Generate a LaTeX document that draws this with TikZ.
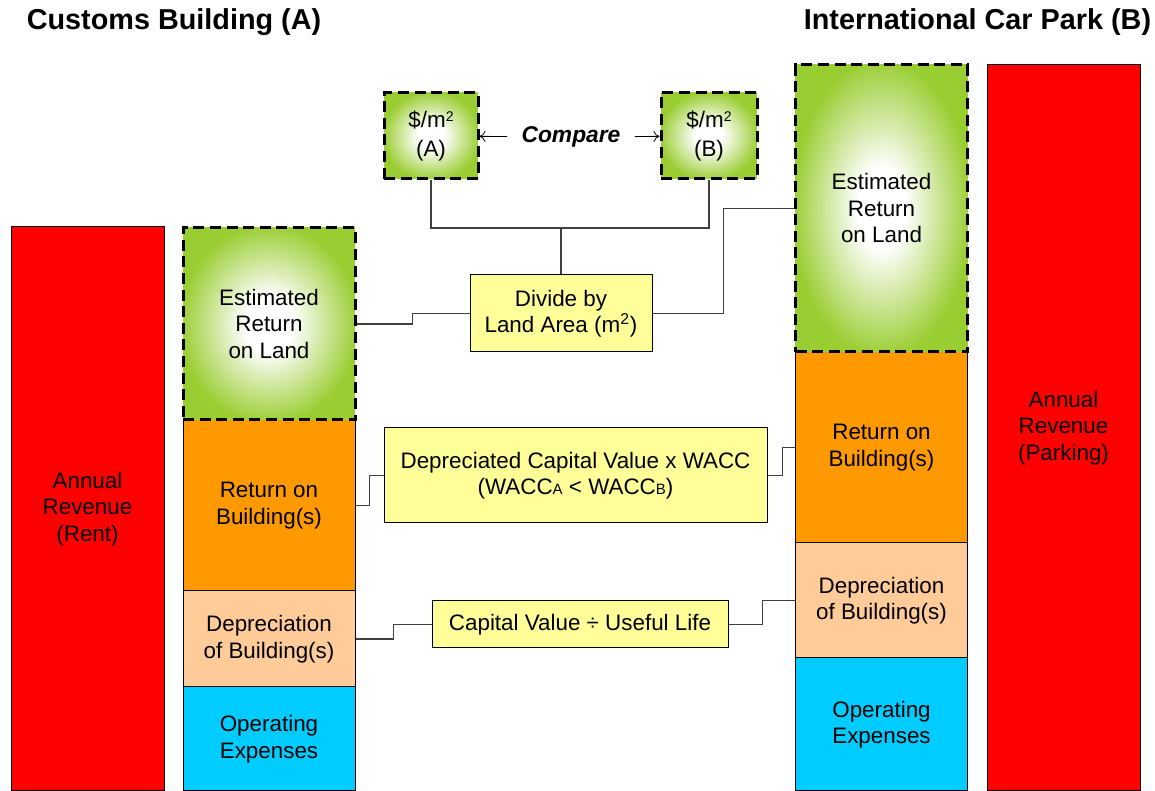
\documentclass[tikz,border=0pt]{standalone}
\usepackage{fontspec}
\setmainfont{Liberation Sans}
\usepackage{xcolor}
\usetikzlibrary{arrows.meta}

\definecolor{revred}{HTML}{FF0000}
\definecolor{bldorange}{HTML}{FF9900}
\definecolor{deppeach}{HTML}{FFCC99}
\definecolor{opcyan}{HTML}{00CCFF}
\definecolor{landgreen}{HTML}{9ACD32}
\definecolor{formyellow}{HTML}{FFFF99}
\definecolor{linkgray}{HTML}{404040}

% soft glow for the land boxes
\pgfdeclareradialshading{landglow}{\pgfpoint{0bp}{0bp}}{%
  color(0bp)=(white); color(7bp)=(white); color(26bp)=(landgreen); color(50bp)=(landgreen)}

% small letters after WACC, small square sign
\newcommand\wsub[1]{{\fontsize{7.5}{8}\selectfont #1}}
\newcommand\sqm{\raisebox{0.5ex}{\fontsize{7}{8}\selectfont 2}}

\begin{document}
\begin{tikzpicture}[x=1pt, y=1pt, >={To[length=3pt,width=5.5pt]},
    every node/.style={font=\fontsize{11.2}{13.25}\selectfont, align=center, inner sep=0pt},
    box/.style={draw, line width=0.5pt, fill=#1, minimum width=86pt},
    land/.style={draw, line width=1.5pt, dash pattern=on 5.5pt off 2.8pt,
                 shade, shading=landglow},
    formula/.style={draw, line width=0.5pt, fill=formyellow},
    link/.style={draw=linkgray, line width=0.6pt}]
  \useasboundingbox (0,0) rectangle (577.5,395.5);

  % titles
  \node[font=\fontsize{14.4}{17}\selectfont\bfseries] (titleA) at (87,384.5) {Customs Building (A)};
  \node[font=\fontsize{14.4}{17}\selectfont\bfseries] (titleB) at (488.75,384.5) {International Car Park (B)};

  % customs building
  \node[box=revred, minimum width=76.5pt, minimum height=282pt] (revA) at (43.75,141) {Annual\\Revenue\\(Rent)};
  \node[box=bldorange, minimum height=85.5pt] (bldA) at (134.5,142.75) {Return on\\Building(s)};
  \node[box=deppeach, minimum height=48pt] (depA) at (134.5,76) {Depreciation\\of Building(s)};
  \node[box=opcyan, minimum height=52pt] (opA) at (134.5,26) {Operating\\Expenses};
  \node[land, minimum width=86pt, minimum height=96pt] (landA) at (134.5,233.5) {Estimated\\Return\\on Land};

  % car park
  \node[box=opcyan, minimum height=66.5pt] (opB) at (440.75,33.25) {Operating\\Expenses};
  \node[box=deppeach, minimum height=57.5pt] (depB) at (440.75,95.25) {Depreciation\\of Building(s)};
  \node[box=bldorange, minimum height=95.5pt] (bldB) at (440.75,171.75) {Return on\\Building(s)};
  \node[land, minimum width=86pt, minimum height=143.5pt] (landB) at (440.75,291.25) {Estimated\\Return\\on Land};
  \node[box=revred, minimum width=76.5pt, minimum height=363pt] (revB) at (531.75,181.5) {Annual\\Revenue\\(Parking)};

  % rates per square metre
  \node[land, minimum width=47pt, minimum height=43pt, font=\fontsize{11.2}{14.5}\selectfont] (rateA) at (215.5,327.5) {\$/m\sqm\\(A)};
  \node[land, minimum width=48pt, minimum height=43pt, font=\fontsize{11.2}{14.5}\selectfont] (rateB) at (354.5,327.5) {\$/m\sqm\\(B)};
  \node[font=\fontsize{11.4}{13}\selectfont\bfseries\itshape, inner xsep=7pt] (cmp) at (285.5,327) {Compare};
  \draw[->] (cmp) -- (rateA);
  \draw[->] (cmp) -- (rateB);

  % formulas
  \node[formula, minimum width=91pt, minimum height=38.5pt] (area) at (280.5,238.75) {Divide by\\Land Area (m\textsuperscript{2})};
  \node[formula, minimum width=191.5pt, minimum height=47.5pt] (wacc) at (287.75,157.75)
    {Depreciated Capital Value x WACC\\(WACC\wsub{A} < WACC\wsub{B})};
  \node[formula, minimum width=148pt, minimum height=23.5pt] (life) at (290,83.25) {Capital Value ÷ Useful Life};

  % links
  \coordinate (fork) at (280.5,281.5);
  \draw[link] (rateA.south) |- (fork) -| (rateB.south);
  \draw[link] (fork) -- (area.north);
  \draw[link] (area.west) -- ++(-28.5,0) |- (landA.east);
  \draw[link] (area.east) -- ++(35.5,0) |- (landB.west);
  \draw[link] (wacc.west) -- ++(-7,0) |- (bldA.east);
  \draw[link] (wacc.east) -- ++(7.5,0) |- (bldB.west);
  \draw[link] (life.west) -- ++(-19,0) |- (depA.east);
  \draw[link] (life.east) -- ++(17,0) |- (depB.west);
\end{tikzpicture}
\end{document}
